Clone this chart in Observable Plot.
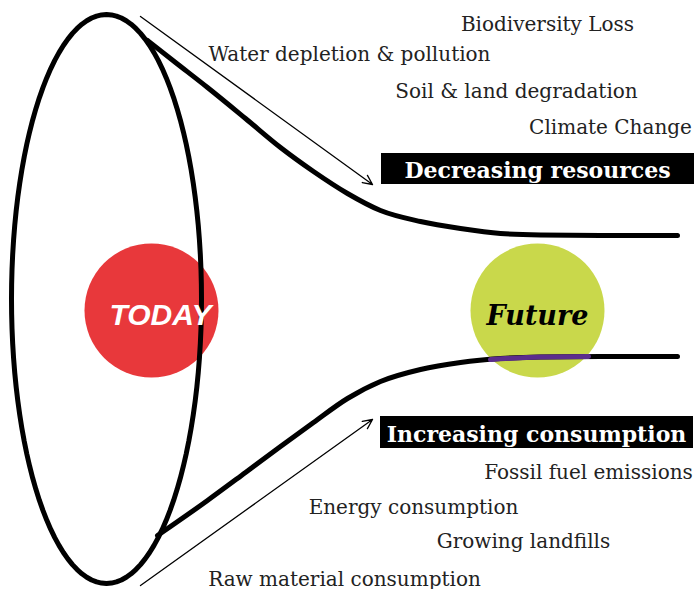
<!DOCTYPE html>
<html>
<head>
<meta charset="utf-8">
<script src="https://cdn.jsdelivr.net/npm/d3@7"></script>
<script src="https://cdn.jsdelivr.net/npm/@observablehq/plot@0.6"></script>
<style>
  html, body { margin: 0; padding: 0; background: #fff; }
</style>
</head>
<body>
<div id="chart"></div>
<script>
// ---- data (diagram geometry, in picture units) ----
const ellipseShape = [{cx: 106, cy: 298.5, rx: 95, ry: 284.5}];
const upperCurve = [[147,40],[175,62],[207,87],[245,118],[280,147],[313,171],[347,193],[380,210],[420,221],[460,228],[500,233],[540,234.5],[600,235],[677,235]];
const lowerCurve = [[157,535],[207,500],[245,472],[280,446],[313,422],[347,398],[380,381],[420,369],[460,362],[500,358],[540,356.5],[600,356],[677,356]];
const lowerInCircle = [[490,359],[540,356.5],[588,356]];
const arrows = [
  {x1: 140, y1: 16, x2: 372, y2: 184},
  {x1: 140, y1: 585, x2: 372, y2: 419}
];
const circles = [
  {name: "TODAY", x: 151, y: 310, fill: "#e8383b"},
  {name: "Future", x: 537, y: 310, fill: "#c9d84b"}
];
const boxes = [
  {label: "Decreasing resources", x1: 381, x2: 694, y1: 153, y2: 184, tx: 537, ty: 177},
  {label: "Increasing consumption", x1: 380, x2: 693, y1: 416, y2: 448, tx: 536, ty: 441}
];
const labels = [
  {text: "Biodiversity Loss", x: 547, y: 30},
  {text: "Water depletion & pollution", x: 349, y: 60},
  {text: "Soil & land degradation", x: 516, y: 97},
  {text: "Climate Change", x: 610, y: 133},
  {text: "Fossil fuel emissions", x: 588, y: 478},
  {text: "Energy consumption", x: 413, y: 513},
  {text: "Growing landfills", x: 523, y: 547},
  {text: "Raw material consumption", x: 344, y: 585}
];

// ellipse outline from its centre and radii
const ellipsePts = d3.range(0, 361, 3).map(a => {
  const e = ellipseShape[0], t = a * Math.PI / 180;
  return [e.cx + e.rx * Math.sin(t), e.cy - e.ry * Math.cos(t)];
});

const W = 698, H = 589;
const serif = "DejaVu Serif";

const chart = Plot.plot({
  width: W,
  height: H,
  margin: 0,
  x: {domain: [0, W], range: [0, W], axis: null},
  y: {domain: [0, H], range: [0, H], axis: null},
  style: {background: "#fff"},
  marks: [
    Plot.dot(circles, {x: "x", y: "y", r: 67, fill: "fill", stroke: null}),
    Plot.line(ellipsePts, {x: d => d[0], y: d => d[1], stroke: "#000", strokeWidth: 5, curve: "linear"}),
    Plot.line(upperCurve, {x: d => d[0], y: d => d[1], stroke: "#000", strokeWidth: 5, curve: "monotone-x"}),
    Plot.line(lowerCurve, {x: d => d[0], y: d => d[1], stroke: "#000", strokeWidth: 5, curve: "monotone-x"}),
    Plot.line(lowerInCircle, {x: d => d[0], y: d => d[1], stroke: "#5b2d8c", strokeWidth: 5, curve: "monotone-x"}),
    Plot.arrow(arrows, {x1: "x1", y1: "y1", x2: "x2", y2: "y2", stroke: "#000", strokeWidth: 1.3, headLength: 12, headAngle: 50}),
    Plot.rect(boxes, {x1: "x1", x2: "x2", y1: "y1", y2: "y2", fill: "#000"}),
    Plot.text(boxes, {x: "tx", y: "ty", text: "label", fill: "#fff", fontSize: 22, fontWeight: "bold", fontFamily: serif, textAnchor: "middle", lineAnchor: "bottom"}),
    Plot.text(labels, {x: "x", y: "y", text: "text", fill: "#222", fontSize: 20, fontFamily: serif, textAnchor: "middle", lineAnchor: "bottom"}),
    Plot.text(circles.filter(d => d.name === "TODAY"), {x: 160, y: 324, text: "name", fill: "#fff", fontSize: 30, fontWeight: "bold", fontStyle: "italic", fontFamily: "Liberation Sans", textAnchor: "middle", lineAnchor: "bottom"}),
    Plot.text(circles.filter(d => d.name === "Future"), {x: 537, y: 324, text: "name", fill: "#000", fontSize: 27, fontWeight: "bold", fontStyle: "italic", fontFamily: serif, textAnchor: "middle", lineAnchor: "bottom"})
  ]
});
document.getElementById("chart").appendChild(chart);
</script>
</body>
</html>
